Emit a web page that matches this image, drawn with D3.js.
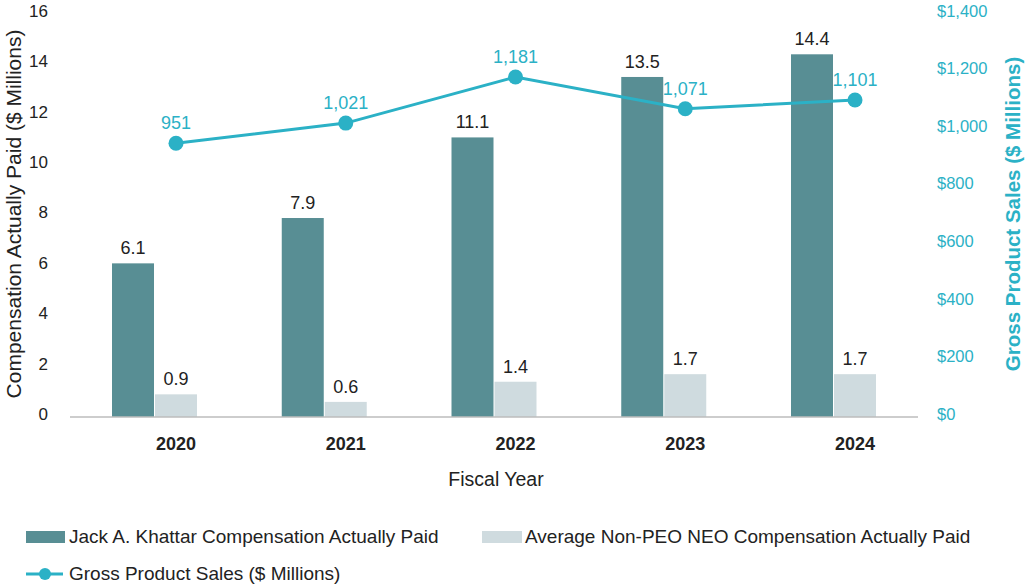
<!DOCTYPE html>
<html>
<head>
<meta charset="utf-8">
<script src="https://cdn.jsdelivr.net/npm/d3@7"></script>
<style>
  body { margin: 0; background: #fff; }
  svg { font-family: "Liberation Sans", Arial, sans-serif; }
</style>
</head>
<body>
<div id="chart"></div>
<script>
// data
var years = ["2020", "2021", "2022", "2023", "2024"];
var ceoPay = [6.1, 7.9, 11.1, 13.5, 14.4];
var neoPay = [0.9, 0.6, 1.4, 1.7, 1.7];
var sales = [951, 1021, 1181, 1071, 1101];
var leftTicks = [0, 2, 4, 6, 8, 10, 12, 14, 16];
var rightTicks = [0, 200, 400, 600, 800, 1000, 1200, 1400];

var width = 1027, height = 585;
var teal = "#588e94", grey = "#cfdbdf", cyan = "#2bb1c6", ink = "#222";

var svg = d3.select("#chart").append("svg")
    .attr("width", width)
    .attr("height", height);

var x = d3.scalePoint().domain(years).range([176, 855]);
var y = d3.scaleLinear().domain([0, 16]).range([417, 14]);
var y2 = d3.scaleLinear().domain([0, 1400]).range([417, 14]);

var barW = 42;

// left ticks
svg.append("g").selectAll("text")
    .data(leftTicks).enter().append("text")
    .attr("x", 48)
    .attr("y", d => y(d) - 3)
    .attr("dy", "0.35em")
    .attr("text-anchor", "end")
    .attr("font-size", 17)
    .attr("fill", ink)
    .text(d => d);

// right ticks
svg.append("g").selectAll("text")
    .data(rightTicks).enter().append("text")
    .attr("x", 937)
    .attr("y", d => y2(d) - 3)
    .attr("dy", "0.35em")
    .attr("font-size", 16.5)
    .attr("fill", cyan)
    .text(d => "$" + d3.format(",")(d));

// bars
svg.append("g").selectAll("rect")
    .data(ceoPay).enter().append("rect")
    .attr("x", (d, i) => x(years[i]) - 22 - barW)
    .attr("y", d => y(d))
    .attr("width", barW)
    .attr("height", d => y(0) - y(d))
    .attr("fill", teal);

svg.append("g").selectAll("rect")
    .data(neoPay).enter().append("rect")
    .attr("x", (d, i) => x(years[i]) - 21)
    .attr("y", d => y(d))
    .attr("width", barW)
    .attr("height", d => y(0) - y(d))
    .attr("fill", grey);

// baseline
svg.append("line")
    .attr("x1", 70).attr("x2", 918)
    .attr("y1", y(0)).attr("y2", y(0))
    .attr("stroke", "#bdbdbd")
    .attr("stroke-width", 1.5);

// bar labels
svg.append("g").selectAll("text")
    .data(ceoPay).enter().append("text")
    .attr("x", (d, i) => x(years[i]) - 22 - barW / 2)
    .attr("y", d => y(d) - 9)
    .attr("text-anchor", "middle")
    .attr("font-size", 18)
    .attr("fill", ink)
    .text(d => d3.format(".1f")(d));

svg.append("g").selectAll("text")
    .data(neoPay).enter().append("text")
    .attr("x", (d, i) => x(years[i]))
    .attr("y", d => y(d) - 9)
    .attr("text-anchor", "middle")
    .attr("font-size", 18)
    .attr("fill", ink)
    .text(d => d3.format(".1f")(d));

// sales line
var line = d3.line()
    .x((d, i) => x(years[i]))
    .y(d => y2(d));

svg.append("path")
    .datum(sales)
    .attr("d", line)
    .attr("fill", "none")
    .attr("stroke", cyan)
    .attr("stroke-width", 3);

svg.append("g").selectAll("circle")
    .data(sales).enter().append("circle")
    .attr("cx", (d, i) => x(years[i]))
    .attr("cy", d => y2(d))
    .attr("r", 7.5)
    .attr("fill", cyan);

svg.append("g").selectAll("text")
    .data(sales).enter().append("text")
    .attr("x", (d, i) => x(years[i]))
    .attr("y", d => y2(d) - 14)
    .attr("text-anchor", "middle")
    .attr("font-size", 18)
    .attr("fill", cyan)
    .text(d => d3.format(",")(d));

// x labels
svg.append("g").selectAll("text")
    .data(years).enter().append("text")
    .attr("x", d => x(d))
    .attr("y", 450)
    .attr("text-anchor", "middle")
    .attr("font-size", 18)
    .attr("font-weight", "bold")
    .attr("fill", ink)
    .text(d => d);

svg.append("text")
    .attr("x", 496)
    .attr("y", 486)
    .attr("text-anchor", "middle")
    .attr("font-size", 19.5)
    .attr("fill", ink)
    .text("Fiscal Year");

// axis titles
svg.append("text")
    .attr("transform", "translate(21,214) rotate(-90)")
    .attr("text-anchor", "middle")
    .attr("font-size", 21)
    .attr("fill", ink)
    .text("Compensation Actually Paid ($ Millions)");

svg.append("text")
    .attr("transform", "translate(1020,214) rotate(-90)")
    .attr("text-anchor", "middle")
    .attr("font-size", 20.5)
    .attr("font-weight", "bold")
    .attr("fill", cyan)
    .text("Gross Product Sales ($ Millions)");

// legend
var legend = svg.append("g");

legend.append("rect")
    .attr("x", 26).attr("y", 531).attr("width", 39).attr("height", 12)
    .attr("fill", teal);
legend.append("text")
    .attr("x", 69).attr("y", 543)
    .attr("font-size", 19).attr("fill", ink)
    .text("Jack A. Khattar Compensation Actually Paid");

legend.append("rect")
    .attr("x", 482).attr("y", 531).attr("width", 40).attr("height", 12)
    .attr("fill", grey);
legend.append("text")
    .attr("x", 525).attr("y", 543)
    .attr("font-size", 19).attr("fill", ink)
    .text("Average Non-PEO NEO Compensation Actually Paid");

legend.append("line")
    .attr("x1", 26).attr("x2", 63).attr("y1", 574).attr("y2", 574)
    .attr("stroke", cyan).attr("stroke-width", 3);
legend.append("circle")
    .attr("cx", 45).attr("cy", 574).attr("r", 6)
    .attr("fill", cyan);
legend.append("text")
    .attr("x", 69).attr("y", 580)
    .attr("font-size", 19).attr("fill", ink)
    .text("Gross Product Sales ($ Millions)");
</script>
</body>
</html>
